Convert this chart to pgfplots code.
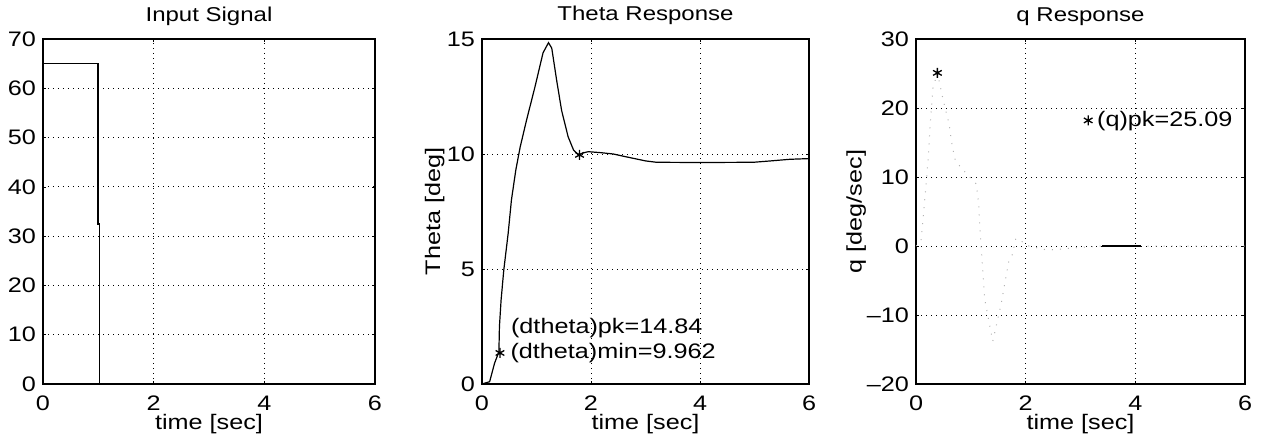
\documentclass[border=0pt]{standalone}
\usepackage{fontspec}
\setmainfont{Liberation Sans}[FakeStretch=1.2]
\usepackage{pgfplots}
\pgfplotsset{compat=1.18}
\pgfplotsset{
  mstyle/.style={
    scale only axis,
    anchor=south west,
    height=345pt,
    xmin=0, xmax=6,
    xtick={0,2,4,6},
    grid=major,
    major grid style={black, line width=0.8pt, dash pattern=on 0.8pt off 4.2pt},
    axis line style={line width=1.6pt},
    tick style={black, line width=0.6pt},
    major tick length=3pt,
    tick align=inside,
    /pgf/number format/assume math mode=true,
    ticklabel style={font=\fontsize{21}{25}\selectfont},
    xticklabel style={anchor=base, inner sep=0pt, yshift=-27pt},
    yticklabel style={anchor=east, inner sep=0pt, xshift=-7pt},
    title style={font=\fontsize{20}{24}\selectfont, anchor=base, at={(0.5,1)}, yshift=12pt},
    label style={font=\fontsize{21}{25}\selectfont},
    xlabel style={at={(axis description cs:0.5,0)}, anchor=base, inner sep=0pt, yshift=-45pt},
    xlabel={time [sec]},
  }
}
\begin{document}
\begin{tikzpicture}
\useasboundingbox (0,0) rectangle (1263pt,439pt);
% Panel 1
\begin{axis}[mstyle, at={(43pt,55pt)}, width=332pt,
  ymin=0, ymax=70, ytick={0,10,...,70},
  title={Input Signal}]
\addplot[black, line width=1.7pt] coordinates {(0,0) (0,65) (1.0,65) (1.0,32.5) (1.02,32.5) (1.02,0) (6,0)};
\end{axis}
% Panel 2
\begin{axis}[mstyle, at={(482pt,55pt)}, width=327pt,
  ymin=0, ymax=15, ytick={0,5,10,15},
  title={Theta Response}, ylabel={Theta [deg]},
  ylabel style={at={(axis description cs:-0.128,0.5)}, anchor=base}]
\addplot[black, line width=1.2pt] coordinates {
(0,0) (0.14,0.1) (0.23,0.9) (0.31,1.4) (0.32,2.5) (0.35,3.65) (0.40,4.96) (0.48,6.55)
(0.54,8.0) (0.62,9.3) (0.70,10.3) (0.82,11.5) (0.97,12.9) (1.12,14.4) (1.22,14.84)
(1.28,14.6) (1.37,13.2) (1.46,11.9) (1.58,10.75) (1.68,10.17) (1.77,9.96) (1.86,10.05)
(1.95,10.1) (2.17,10.06) (2.41,10.0) (2.6,9.9) (2.78,9.81) (3.0,9.7) (3.2,9.64)
(4.0,9.63) (4.98,9.64) (5.3,9.7) (5.65,9.77) (6.0,9.8)};
\addplot[black, only marks, mark=asterisk, mark size=5pt, line width=1.3pt] coordinates {(1.79,9.962) (0.33,1.35)};
\node[anchor=base west, inner sep=0pt, font=\fontsize{21}{25}\selectfont] at (axis cs:0.53,2.2) {(dtheta)pk=14.84};
\node[anchor=base west, inner sep=0pt, font=\fontsize{21}{25}\selectfont] at (axis cs:0.52,1.12) {(dtheta)min=9.962};
\end{axis}
% Panel 3
\begin{axis}[mstyle, at={(916pt,55pt)}, width=329pt,
  ymin=-20, ymax=30, ytick={-20,-10,0,10,20,30},
  yticklabels={\textendash20,\textendash10,0,10,20,30},
  title={q Response}, ylabel={q [deg/sec]},
  ylabel style={at={(axis description cs:-0.165,0.5)}, anchor=base}]
\addplot[gray!60, line width=1pt, dash pattern=on 1pt off 7pt] coordinates {
(0,0) (0.09,0.7) (0.18,8.5) (0.22,12.5) (0.26,17.8) (0.31,22.9) (0.39,25.09)
(0.5,21) (0.6,17.8) (0.66,14.5) (0.72,12.3) (0.94,10.3) (1.1,9) (1.14,6.3) (1.17,2.2)
(1.25,-7.6) (1.4,-13.8) (1.55,-8.5) (1.69,-2.3) (1.76,-1.2) (1.82,1.1) (1.99,0.4)
(2.06,0) (2.4,-0.6) (3.0,-0.2) (3.37,0) (6,0)};
\addplot[black, line width=1.4pt] coordinates {(3.4,0) (4.1,0)};
\addplot[black, only marks, mark=asterisk, mark size=5pt, line width=1.3pt] coordinates {(0.39,25.09) (3.14,18.2)};
\node[anchor=base west, inner sep=0pt, font=\fontsize{21}{25}\selectfont] at (axis cs:3.3,17.3) {(q)pk=25.09};
\end{axis}
\end{tikzpicture}
\end{document}
